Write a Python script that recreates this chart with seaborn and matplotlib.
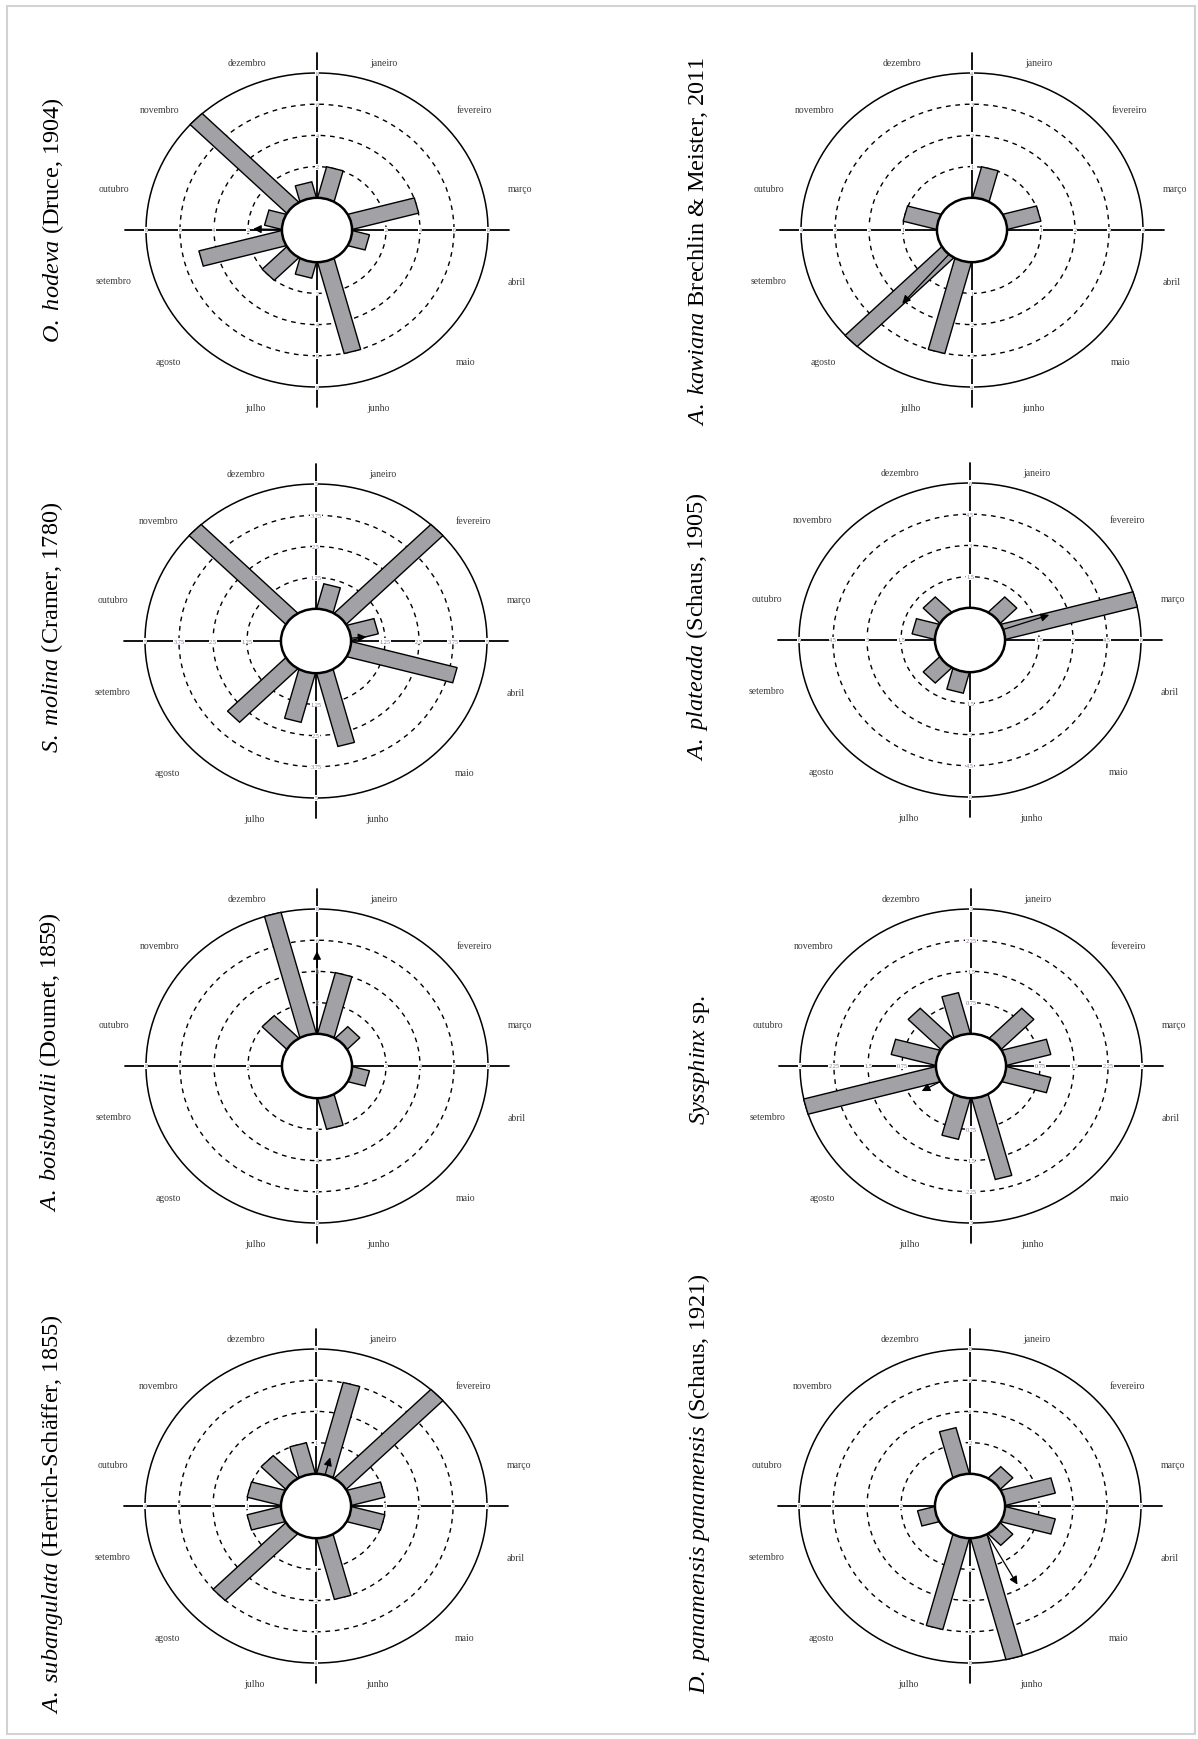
import numpy as np
import matplotlib
matplotlib.use("Agg")
import matplotlib.pyplot as plt
import seaborn as sns
from matplotlib.patches import Circle, Polygon, Rectangle

sns.set_theme(style="white")
plt.rcParams["font.family"] = ["Liberation Serif", "DejaVu Serif"]
plt.rcParams["mathtext.fontset"] = "custom"
plt.rcParams["mathtext.rm"] = "Liberation Serif"
plt.rcParams["mathtext.it"] = "Liberation Serif:italic"

# ---------------- data ----------------
months = ["janeiro", "fevereiro", "março", "abril", "maio", "junho",
          "julho", "agosto", "setembro", "outubro", "novembro", "dezembro"]
month_angles = [15, 45, 75, 105, 135, 165, 195, 225, 255, 285, 315, 345]

hodeva = [2, 0, 4, 1, 0, 6, 1, 2, 5, 1, 8, 1]
kawiana = [1, 0, 1, 0, 0, 0, 3, 4, 0, 1, 0, 0]
molina = [1, 5, 1, 4, 0, 3, 2, 3, 0, 0, 5, 0]
plateada = [0, 1, 6, 0, 0, 0, 1, 1, 0, 1, 1, 0]
boisduvalii = [4, 1, 0, 1, 0, 2, 0, 0, 0, 0, 2, 8]
syssphinx = [0, 1, 1, 1, 0, 2, 1, 0, 3, 1, 1, 1]
subangulata = [3, 4, 1, 1, 0, 2, 0, 3, 1, 1, 1, 1]
panamensis = [0, 1, 3, 3, 1, 8, 6, 0, 1, 0, 0, 3]

# mean vector: angle (degrees, clockwise from north) and length (scale units)
arrow_angles = [271, 221, 85, 71, 0, 241, 15, 151]
arrow_lengths = [1.7, 2.1, 0.57, 2.15, 5.3, 0.47, 0.58, 3.7]

ring_ticks = [
    [2, 4, 6, 8],
    [1, 2, 3, 4],
    [1.25, 2.5, 3.75, 5],
    [1.5, 3, 4.5, 6],
    [2, 4, 6, 8],
    [0.75, 1.5, 2.25, 3],
    [1, 2, 3, 4],
    [2, 4, 6, 8],
]
ring_labels = [
    ["2", "4", "6", "8"],
    ["1", "2", "3", "4"],
    ["1.25", "2.5", "3.75", "5"],
    ["1.5", "3", "4.5", "6"],
    ["2", "4", "6", "8"],
    ["0.75", "1.5", "2.25", "3"],
    ["1", "2", "3", "4"],
    ["2", "4", "6", "8"],
]

titles = [
    r"$\mathit{O.\ hodeva}$ (Druce, 1904)",
    r"$\mathit{A.\ kawiana}$ Brechlin & Meister, 2011",
    r"$\mathit{S.\ molina}$ (Cramer, 1780)",
    r"$\mathit{A.\ plateada}$ (Schaus, 1905)",
    r"$\mathit{A.\ boisbuvalii}$ (Doumet, 1859)",
    r"$\mathit{Syssphinx}$ sp.",
    r"$\mathit{A.\ subangulata}$ (Herrich-Schäffer, 1855)",
    r"$\mathit{D.\ panamensis\ panamensis}$ (Schaus, 1921)",
]
series = [hodeva, kawiana, molina, plateada, boisduvalii, syssphinx, subangulata, panamensis]

# ---------------- layout ----------------
W, H = 1198, 1740
centers = [(317, 231), (972, 231), (316, 642), (970, 641),
           (317, 1067), (971, 1067), (316, 1507), (970, 1507)]
title_pos = [(53, 220), (698, 241), (52, 627), (697, 627),
             (50, 1062), (699, 1060), (52, 1514), (699, 1484)]
RH, RV = 171, 157
PAD = 1.3
HOLE = 0.205
HALF_W = 0.05

label_pos = [(0.39, 1.07), (0.92, 0.77), (1.19, 0.265), (1.17, -0.33),
             (0.87, -0.84), (0.36, -1.13), (-0.36, -1.13), (-0.87, -0.84),
             (-1.19, -0.32), (-1.19, 0.265), (-0.92, 0.77), (-0.41, 1.07)]

fig = plt.figure(figsize=(W / 100, H / 100), dpi=100)
fig.patch.set_facecolor("white")

BAR_COLOR = "#a2a2a6"
TICK_COLOR = "#85708f"


def draw_panel(ax, values, ticks, tlabels, a_ang, a_len):
    vmax = ticks[-1]
    ax.set_xlim(-PAD, PAD)
    ax.set_ylim(-PAD, PAD)
    ax.set_aspect("auto")
    ax.set_axis_off()

    def rad(v):
        return HOLE + (1 - HOLE) * v / vmax

    ax.plot([-1.12, 1.12], [0, 0], color="black", lw=1.3, zorder=1)
    ax.plot([0, 0], [-1.13, 1.13], color="black", lw=1.3, zorder=1)
    for t in ticks[:-1]:
        ax.add_patch(Circle((0, 0), rad(t), fill=False, ec="black",
                            lw=1.0, ls=(0, (3.4, 3.4)), zorder=1))
    ax.add_patch(Circle((0, 0), 1.0, fill=False, ec="black", lw=1.1, zorder=1))

    for t, lab in zip(ticks, tlabels):
        r = rad(t)
        for (x, y) in [(r, 0), (-r, 0), (0, r), (0, -r)]:
            ax.text(x, y, lab, fontsize=4.5, color=TICK_COLOR, ha="center",
                    va="center", zorder=2,
                    bbox=dict(fc="white", ec="none", pad=0.3))

    for ang, v in zip(month_angles, values):
        if v <= 0:
            continue
        th = np.deg2rad(ang)
        u = np.array([np.sin(th), np.cos(th)])
        p = np.array([np.cos(th), -np.sin(th)])
        r0 = HOLE * 0.7
        r1 = rad(v)
        corners = [r0 * u - HALF_W * p, r1 * u - HALF_W * p,
                   r1 * u + HALF_W * p, r0 * u + HALF_W * p]
        ax.add_patch(Polygon(corners, closed=True, fc=BAR_COLOR, ec="black",
                             lw=1.0, zorder=3))

    ax.add_patch(Circle((0, 0), HOLE, fc="white", ec="black", lw=1.8, zorder=4))

    th = np.deg2rad(a_ang)
    u = np.array([np.sin(th), np.cos(th)])
    ax.annotate("", xy=tuple(rad(a_len) * u), xytext=tuple(HOLE * u),
                arrowprops=dict(arrowstyle="-|>", color="black", lw=0.9,
                                mutation_scale=12, shrinkA=0, shrinkB=0),
                zorder=5)

    for name, (lx, ly) in zip(months, label_pos):
        ax.text(lx, ly, name, fontsize=7, color="#3a3a3a", ha="center",
                va="center", clip_on=False)


for i in range(8):
    cx, cy = centers[i]
    w = 2 * PAD * RH
    h = 2 * PAD * RV
    ax = fig.add_axes([(cx - PAD * RH) / W, 1 - (cy + PAD * RV) / H, w / W, h / H])
    draw_panel(ax, series[i], ring_ticks[i], ring_labels[i],
               arrow_angles[i], arrow_lengths[i])
    tx, ty = title_pos[i]
    fig.text(tx / W, 1 - ty / H, titles[i], rotation=90, ha="center",
             va="center", fontsize=17.5, color="black")

fig.add_artist(Rectangle((7 / W, 1 - 1735 / H), (1195 - 7) / W, (1735 - 7) / H,
                         transform=fig.transFigure, fill=False,
                         ec="#d2d2d2", lw=1.5))

fig.savefig("out.png", dpi=100)
